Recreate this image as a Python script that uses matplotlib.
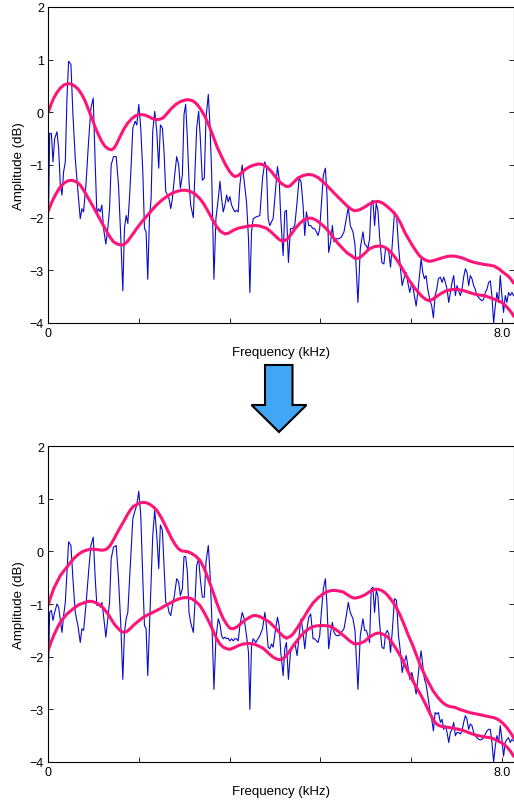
import numpy as np
import matplotlib
matplotlib.use('Agg')
import matplotlib.pyplot as plt
from matplotlib.patches import Polygon

plt.rcParams['font.family'] = ['Liberation Sans', 'DejaVu Sans']

# spectrum samples (kHz), shared by both panels
freq = [
    0.000, 0.029, 0.059, 0.088, 0.117, 0.158, 0.187, 0.217, 0.246, 0.275,
    0.305, 0.334, 0.363, 0.404, 0.439, 0.480, 0.527, 0.568, 0.598, 0.627,
    0.668, 0.715, 0.756, 0.797, 0.832, 0.861, 0.890, 0.920, 0.949, 0.978,
    1.019, 1.054, 1.084, 1.113, 1.154, 1.201, 1.242, 1.283, 1.318, 1.347,
    1.377, 1.406, 1.435, 1.465, 1.494, 1.535, 1.564, 1.599, 1.634, 1.670,
    1.699, 1.728, 1.757, 1.787, 1.816, 1.845, 1.880, 1.916, 1.951, 1.980,
    2.015, 2.044, 2.074, 2.103, 2.132, 2.162, 2.191, 2.226, 2.267, 2.302,
    2.332, 2.367, 2.396, 2.425, 2.455, 2.484, 2.513, 2.560, 2.589, 2.619,
    2.654, 2.683, 2.718, 2.753, 2.783, 2.824, 2.853, 2.882, 2.923, 2.958,
    2.999, 3.029, 3.058, 3.087, 3.117, 3.146, 3.175, 3.204, 3.234, 3.263,
    3.292, 3.321, 3.351, 3.380, 3.421, 3.456, 3.497, 3.532, 3.556, 3.585,
    3.614, 3.661,
    3.732, 3.779, 3.820, 3.849, 3.878, 3.907, 3.937, 3.966, 4.001, 4.042,
    4.071, 4.101, 4.142, 4.171, 4.200, 4.235, 4.271, 4.306, 4.347, 4.388,
    4.423, 4.458, 4.493, 4.523, 4.552, 4.593, 4.628, 4.669, 4.698, 4.728,
    4.757, 4.786, 4.815, 4.851, 4.886, 4.915, 4.944, 4.979, 5.009, 5.038,
    5.079, 5.126, 5.167, 5.214, 5.255, 5.290, 5.325, 5.372, 5.407,
    5.460, 5.501, 5.548, 5.577, 5.606, 5.635, 5.665, 5.694, 5.723, 5.753,
    5.782, 5.811, 5.840, 5.881, 5.917, 5.946, 5.975, 6.004, 6.034, 6.063,
    6.104, 6.139, 6.174, 6.209, 6.239, 6.268, 6.309, 6.338, 6.373, 6.409,
    6.444, 6.485, 6.514, 6.543, 6.573, 6.602, 6.631, 6.660, 6.690, 6.725,
    6.760, 6.789, 6.819, 6.848, 6.877, 6.912, 6.942, 6.971, 7.000, 7.030,
    7.059, 7.088, 7.117, 7.147, 7.176, 7.205, 7.234, 7.264, 7.293, 7.322,
    7.352, 7.381, 7.410, 7.439, 7.469, 7.498, 7.527, 7.557, 7.586, 7.615,
    7.644, 7.674, 7.703, 7.732, 7.762, 7.791, 7.820, 7.850, 7.879, 7.908,
    7.937, 7.967, 7.996, 8.025, 8.055, 8.084, 8.113, 8.143, 8.172, 8.201,
]

spec_before = [
    -2.65, -0.40, -0.40, -0.94, -0.50, -0.37, -0.68, -1.38, -1.57, -1.13,
    -0.94, 0.27, 0.97, 0.91, -0.04, -0.87, -1.50, -2.02, -1.83, -1.89,
    -1.38, -0.55, 0.08, 0.27, -1.00, -1.92, -1.83, -1.89, -1.76, -2.20,
    -2.50, -2.20, -1.83, -1.00, -0.84, -0.84, -1.38, -2.40, -3.39, -2.20,
    -1.96, -2.11, -1.64, -1.00, -0.30, -0.17, -0.24, 0.15, -0.30, -1.13,
    -2.20, -2.27, -3.17, -2.02, -1.64, -0.36, 0.02, -0.36, -1.06, -0.24,
    -0.30, -0.75, -1.50, -1.57, -1.64, -1.83, -1.64, -1.25, -0.84, -1.00,
    -1.44, -1.19, -0.04, 0.15, -0.49, -1.31, -1.76, -2.00, -1.13, -0.30,
    0.02, -0.49, -1.29, -1.25, -0.11, 0.34, -0.24, -1.13, -3.17, -2.02,
    -1.64, -1.31, -1.64, -1.89, -1.76, -1.57, -1.70, -1.60, -1.76, -1.83,
    -1.89, -1.86, -1.89, -1.38, -1.00, -1.31, -1.70, -2.40, -3.42, -2.27,
    -2.02, -1.99,
    -1.96, -1.25, -0.94, -1.06, -2.02, -2.15, -2.08, -2.02, -1.57, -1.03,
    -1.25, -2.02, -2.72, -1.89, -1.86, -2.85, -2.21, -2.21, -2.15, -1.70,
    -1.25, -1.32, -1.76, -2.34, -1.89, -2.15, -2.15, -2.21, -2.21, -2.27,
    -2.34, -2.21, -1.76, -1.19, -1.06, -1.57, -2.66, -2.46, -2.15, -2.46,
    -2.40, -2.40, -2.37, -2.27, -2.02, -1.80, -2.15, -2.27, -2.50,
    -3.61, -2.59, -2.27, -2.50, -2.53, -2.59, -2.40, -1.70, -1.67, -2.15,
    -1.73, -1.86, -2.34, -2.85, -2.88, -2.59, -2.59, -2.66, -2.94, -2.53,
    -1.89, -1.96, -2.53, -2.97, -3.29, -3.16, -3.04, -3.23, -3.42, -3.23,
    -3.42, -3.68, -3.42, -3.10, -2.78, -3.04, -3.16, -3.10, -3.36, -3.55,
    -3.68, -3.90, -3.48, -3.36, -3.16, -3.13, -3.23, -3.13, -3.23, -3.36,
    -3.61, -3.42, -3.23, -3.10, -3.48, -3.29, -3.39, -3.48, -3.36, -3.13,
    -2.97, -3.04, -3.29, -3.10, -3.16, -3.29, -3.36, -3.48, -3.52, -3.55,
    -3.58, -3.55, -3.42, -3.36, -3.23, -3.20, -3.48, -4.00, -3.68, -3.42,
    -3.61, -3.10, -3.48, -3.80, -3.48, -3.61, -3.42, -3.48, -3.42, -3.48,
]

spec_after = [
    -2.68, -1.16, -1.12, -1.31, -1.16, -1.00, -1.06, -1.31, -1.54, -1.22,
    -0.97, -0.39, 0.18, 0.11, -0.52, -1.16, -1.41, -1.73, -1.47, -1.50,
    -1.03, -0.39, 0.11, 0.27, -0.52, -1.03, -1.00, -1.06, -0.97, -1.22,
    -1.63, -1.28, -0.97, -0.14, 0.08, 0.11, -0.52, -1.41, -2.43, -1.54,
    -1.28, -1.16, -0.58, 0.05, 0.62, 0.78, 0.88, 1.14, 0.69, -0.52,
    -1.41, -1.47, -2.36, -1.47, -0.65, 0.30, 0.78, 0.30, -0.33, 0.50,
    0.40, -0.27, -0.97, -1.00, -1.16, -1.22, -1.03, -0.84, -0.52, -0.58,
    -0.84, -0.71, -0.10, -0.10, -0.39, -1.16, -1.35, -1.54, -0.97, -0.27,
    -0.14, -0.52, -0.87, -0.87, -0.20, 0.11, -0.39, -1.16, -2.62, -1.66,
    -1.28, -1.38, -1.60, -1.66, -1.63, -1.66, -1.65, -1.70, -1.66, -1.70,
    -1.66, -1.66, -1.70, -1.41, -1.16, -1.28, -1.60, -1.92, -3.00, -1.79,
    -1.66, -1.73,
    -1.60, -1.47, -1.16, -1.44, -1.82, -1.85, -1.76, -1.82, -1.54, -1.25,
    -1.41, -1.92, -2.36, -1.85, -1.73, -2.43, -1.92, -1.79, -1.73, -1.98,
    -1.60, -1.28, -1.54, -1.85, -1.54, -1.25, -1.19, -1.66, -1.66, -1.70,
    -1.73, -1.60, -1.16, -0.71, -0.52, -1.03, -1.85, -1.54, -1.35, -1.54,
    -1.60, -1.60, -1.54, -1.47, -1.22, -0.97, -1.16, -1.28, -1.50,
    -2.62, -1.60, -1.28, -1.50, -1.50, -1.60, -1.73, -0.71, -0.68, -1.16,
    -0.74, -0.84, -1.35, -1.82, -1.85, -1.57, -1.50, -1.57, -1.92, -1.54,
    -0.90, -0.93, -1.60, -1.92, -2.30, -2.14, -1.98, -2.17, -2.43, -2.30,
    -2.46, -2.71, -2.43, -2.11, -1.89, -2.17, -2.43, -2.52, -2.74, -3.00,
    -3.19, -3.41, -3.06, -3.09, -3.06, -3.25, -3.19, -3.38, -3.31, -3.44,
    -3.63, -3.44, -3.38, -3.25, -3.50, -3.44, -3.44, -3.47, -3.41, -3.25,
    -3.12, -3.19, -3.38, -3.28, -3.31, -3.44, -3.50, -3.54, -3.57, -3.58,
    -3.57, -3.54, -3.47, -3.41, -3.38, -3.38, -3.63, -4.00, -3.70, -3.50,
    -3.63, -3.31, -3.57, -3.89, -3.63, -3.57, -3.54, -3.63, -3.57, -3.60,
]

# envelopes as (kHz, dB) pairs
env_up_before = np.array([
    (0.000, -0.01), (0.050, 0.14), (0.100, 0.27), (0.160, 0.38), (0.217, 0.46),
    (0.280, 0.52), (0.334, 0.54), (0.380, 0.545), (0.422, 0.53), (0.480, 0.49),
    (0.539, 0.43), (0.600, 0.33), (0.656, 0.21), (0.710, 0.06), (0.773, -0.11),
    (0.830, -0.28), (0.890, -0.43), (0.950, -0.56), (1.008, -0.65), (1.070, -0.70),
    (1.125, -0.71), (1.170, -0.67), (1.213, -0.59), (1.270, -0.46), (1.330, -0.33),
    (1.400, -0.21), (1.476, -0.12), (1.550, -0.06), (1.623, -0.04), (1.700, -0.05),
    (1.769, -0.08), (1.840, -0.12), (1.916, -0.14), (1.975, -0.13), (2.033, -0.10),
    (2.100, -0.02), (2.179, 0.08), (2.250, 0.15), (2.326, 0.20), (2.400, 0.23),
    (2.472, 0.24), (2.550, 0.22), (2.619, 0.16), (2.690, 0.06), (2.765, -0.08),
    (2.840, -0.26), (2.911, -0.46), (2.980, -0.66), (3.058, -0.84), (3.130, -1.00),
    (3.204, -1.13), (3.250, -1.19), (3.292, -1.22), (3.350, -1.20), (3.409, -1.15),
    (3.480, -1.08), (3.556, -1.03), (3.630, -1.00), (3.702, -0.98), (3.780, -0.99),
    (3.849, -1.03), (3.940, -1.13), (4.025, -1.25), (4.110, -1.35), (4.200, -1.41),
    (4.260, -1.40), (4.317, -1.34), (4.400, -1.25), (4.493, -1.20), (4.580, -1.18),
    (4.669, -1.19), (4.760, -1.24), (4.845, -1.32), (4.930, -1.41), (5.020, -1.51),
    (5.110, -1.61), (5.196, -1.70), (5.270, -1.78), (5.343, -1.84), (5.401, -1.87),
    (5.490, -1.85), (5.577, -1.80), (5.660, -1.74), (5.753, -1.70), (5.810, -1.69),
    (5.870, -1.71), (5.930, -1.75), (5.987, -1.80), (6.060, -1.87), (6.133, -1.96),
    (6.210, -2.10), (6.280, -2.27), (6.370, -2.44), (6.456, -2.59), (6.540, -2.72),
    (6.632, -2.80), (6.720, -2.83), (6.807, -2.81), (6.890, -2.78), (6.983, -2.75),
    (7.070, -2.73), (7.159, -2.73), (7.250, -2.75), (7.335, -2.78), (7.420, -2.82),
    (7.510, -2.85), (7.600, -2.87), (7.686, -2.89), (7.770, -2.90), (7.862, -2.92),
    (7.940, -2.97), (8.008, -3.03), (8.070, -3.08), (8.125, -3.13), (8.170, -3.19),
    (8.201, -3.24),
])

env_lo_before = np.array([
    (0.000, -1.89), (0.060, -1.72), (0.129, -1.57), (0.200, -1.44), (0.275, -1.35),
    (0.350, -1.30), (0.422, -1.29), (0.500, -1.32), (0.568, -1.38), (0.640, -1.50),
    (0.715, -1.64), (0.790, -1.78), (0.861, -1.92), (0.930, -2.06), (1.008, -2.21),
    (1.080, -2.35), (1.154, -2.46), (1.240, -2.51), (1.330, -2.52), (1.400, -2.45),
    (1.476, -2.34), (1.560, -2.21), (1.652, -2.08), (1.740, -1.97), (1.828, -1.86),
    (1.910, -1.76), (2.003, -1.67), (2.090, -1.60), (2.179, -1.54), (2.270, -1.50),
    (2.355, -1.48), (2.430, -1.48), (2.501, -1.50), (2.590, -1.55), (2.677, -1.64),
    (2.750, -1.75), (2.824, -1.89), (2.900, -2.04), (2.970, -2.17), (3.040, -2.26),
    (3.117, -2.31), (3.190, -2.29), (3.263, -2.24), (3.350, -2.20), (3.439, -2.18),
    (3.530, -2.16), (3.614, -2.15), (3.670, -2.15), (3.732, -2.16), (3.790, -2.18),
    (3.849, -2.20), (3.940, -2.28), (4.025, -2.37), (4.080, -2.42), (4.142, -2.45),
    (4.210, -2.41), (4.288, -2.31), (4.360, -2.20), (4.434, -2.11), (4.510, -2.04),
    (4.581, -2.01), (4.650, -2.01), (4.728, -2.05), (4.800, -2.11), (4.874, -2.18),
    (4.950, -2.27), (5.020, -2.37), (5.110, -2.49), (5.196, -2.59), (5.270, -2.67),
    (5.343, -2.72), (5.401, -2.77), (5.480, -2.77), (5.577, -2.68), (5.660, -2.59),
    (5.753, -2.55), (5.810, -2.54), (5.870, -2.54), (5.930, -2.56), (5.987, -2.60),
    (6.060, -2.68), (6.133, -2.78), (6.210, -2.91), (6.280, -3.04), (6.350, -3.17),
    (6.427, -3.29), (6.500, -3.39), (6.573, -3.48), (6.650, -3.55), (6.719, -3.58),
    (6.790, -3.54), (6.866, -3.48), (6.940, -3.43), (7.012, -3.39), (7.090, -3.37),
    (7.159, -3.36), (7.250, -3.37), (7.335, -3.39), (7.420, -3.42), (7.510, -3.45),
    (7.600, -3.47), (7.686, -3.48), (7.770, -3.51), (7.862, -3.55), (7.940, -3.58),
    (8.008, -3.62), (8.070, -3.68), (8.125, -3.75), (8.170, -3.81), (8.201, -3.87),
])

env_up_after = np.array([
    (0.000, -1.03), (0.050, -0.86), (0.100, -0.71), (0.160, -0.58), (0.217, -0.46),
    (0.280, -0.37), (0.334, -0.30), (0.390, -0.22), (0.451, -0.14), (0.520, -0.07),
    (0.598, -0.01), (0.670, 0.02), (0.744, 0.04), (0.820, 0.04), (0.890, 0.03),
    (0.950, 0.02), (1.008, 0.03), (1.050, 0.06), (1.095, 0.11), (1.150, 0.21),
    (1.213, 0.34), (1.270, 0.45), (1.330, 0.56), (1.390, 0.68), (1.447, 0.78),
    (1.500, 0.85), (1.564, 0.89), (1.620, 0.92), (1.681, 0.93), (1.740, 0.92),
    (1.798, 0.89), (1.860, 0.84), (1.916, 0.78), (1.990, 0.65), (2.062, 0.50),
    (2.120, 0.37), (2.179, 0.24), (2.240, 0.13), (2.296, 0.05), (2.350, 0.01),
    (2.414, 0.00), (2.470, -0.01), (2.531, -0.04), (2.600, -0.09), (2.677, -0.17),
    (2.750, -0.32), (2.824, -0.52), (2.900, -0.75), (2.970, -0.97), (3.030, -1.14),
    (3.087, -1.28), (3.150, -1.39), (3.204, -1.46), (3.260, -1.47), (3.321, -1.44),
    (3.390, -1.38), (3.468, -1.31), (3.540, -1.26), (3.614, -1.22), (3.670, -1.22),
    (3.732, -1.24), (3.820, -1.29), (3.907, -1.35), (4.000, -1.45), (4.083, -1.55),
    (4.140, -1.61), (4.200, -1.65), (4.260, -1.62), (4.317, -1.57), (4.400, -1.44),
    (4.493, -1.28), (4.580, -1.12), (4.669, -0.98), (4.760, -0.88), (4.845, -0.81),
    (4.930, -0.76), (5.020, -0.74), (5.110, -0.75), (5.196, -0.77), (5.270, -0.82),
    (5.343, -0.87), (5.401, -0.89), (5.490, -0.87), (5.577, -0.83), (5.660, -0.77),
    (5.753, -0.72), (5.810, -0.72), (5.870, -0.74), (5.930, -0.78), (5.987, -0.84),
    (6.060, -0.94), (6.133, -1.06), (6.210, -1.23), (6.280, -1.41), (6.350, -1.60),
    (6.427, -1.79), (6.500, -2.00), (6.573, -2.20), (6.650, -2.38), (6.719, -2.52),
    (6.790, -2.66), (6.866, -2.77), (6.940, -2.86), (7.012, -2.92), (7.090, -2.95),
    (7.159, -2.96), (7.250, -3.00), (7.335, -3.03), (7.420, -3.06), (7.510, -3.08),
    (7.600, -3.10), (7.686, -3.12), (7.770, -3.14), (7.862, -3.16), (7.940, -3.20),
    (8.008, -3.26), (8.070, -3.33), (8.125, -3.41), (8.170, -3.48), (8.201, -3.54),
])

env_lo_after = np.array([
    (0.000, -1.89), (0.050, -1.73), (0.100, -1.60), (0.160, -1.46), (0.217, -1.35),
    (0.280, -1.26), (0.334, -1.19), (0.410, -1.12), (0.480, -1.06), (0.550, -1.01),
    (0.627, -0.98), (0.700, -0.95), (0.773, -0.95), (0.830, -0.97), (0.890, -1.00),
    (0.950, -1.05), (1.008, -1.12), (1.070, -1.21), (1.125, -1.31), (1.180, -1.40),
    (1.242, -1.47), (1.290, -1.52), (1.342, -1.54), (1.390, -1.52), (1.447, -1.47),
    (1.500, -1.41), (1.564, -1.35), (1.620, -1.30), (1.681, -1.25), (1.750, -1.21),
    (1.828, -1.17), (1.900, -1.13), (1.974, -1.09), (2.050, -1.04), (2.121, -1.00),
    (2.190, -0.96), (2.267, -0.92), (2.340, -0.89), (2.414, -0.88), (2.470, -0.88),
    (2.531, -0.90), (2.600, -0.95), (2.677, -1.03), (2.750, -1.16), (2.824, -1.31),
    (2.900, -1.49), (2.970, -1.66), (3.030, -1.76), (3.087, -1.82), (3.150, -1.85),
    (3.204, -1.86), (3.280, -1.83), (3.351, -1.79), (3.440, -1.76), (3.527, -1.75),
    (3.630, -1.76), (3.732, -1.81), (3.790, -1.84), (3.880, -1.93), (3.966, -2.01),
    (4.040, -2.05), (4.112, -2.06), (4.180, -2.00), (4.259, -1.89), (4.350, -1.75),
    (4.434, -1.63), (4.520, -1.53), (4.610, -1.46), (4.700, -1.42), (4.786, -1.41),
    (4.870, -1.41), (4.962, -1.42), (5.050, -1.47), (5.138, -1.54), (5.230, -1.62),
    (5.313, -1.70), (5.401, -1.76), (5.490, -1.75), (5.577, -1.71), (5.660, -1.63),
    (5.753, -1.57), (5.810, -1.55), (5.870, -1.56), (5.930, -1.59), (5.987, -1.63),
    (6.060, -1.73), (6.133, -1.85), (6.210, -1.99), (6.280, -2.14), (6.350, -2.30),
    (6.427, -2.46), (6.500, -2.60), (6.573, -2.74), (6.650, -2.90), (6.719, -3.06),
    (6.780, -3.19), (6.836, -3.27), (6.890, -3.31), (6.954, -3.33), (7.020, -3.34),
    (7.100, -3.35), (7.190, -3.37), (7.276, -3.39), (7.360, -3.42), (7.452, -3.46),
    (7.540, -3.49), (7.627, -3.51), (7.720, -3.53), (7.803, -3.54), (7.890, -3.58),
    (7.979, -3.63), (8.040, -3.67), (8.096, -3.73), (8.150, -3.80), (8.201, -3.89),
])

xticks = [0, 1.6, 3.2, 4.8, 6.4, 8.0]
xticklabels = ['0', '', '', '', '', '8.0']
yticks = [-4, -3, -2, -1, 0, 1, 2]

W, H = 514, 803
fig = plt.figure(figsize=(W / 100, H / 100), dpi=100)

def panel(top_px, spec, env_up, env_lo):
    ax = fig.add_axes([48 / W, 1 - (top_px + 316) / H, 465.5 / W, 316 / H])
    ax.plot(freq, spec, color='#0a0acc', lw=0.8)
    for env in (env_up, env_lo):
        ax.plot(env[:, 0], env[:, 1], color='#ff1477', lw=2.2,
                solid_capstyle='round', solid_joinstyle='round')
    ax.set_xlim(0, 8.2)
    ax.set_ylim(-4, 2)
    ax.set_xticks(xticks)
    ax.set_xticklabels(xticklabels)
    ax.set_yticks(yticks)
    ax.tick_params(direction='in', length=3.5, width=0.6, labelsize=9,
                   left=True, right=True, bottom=True, top=False, pad=3)
    ax.set_ylabel('Amplitude (dB)', fontsize=9.5, labelpad=3)
    ax.set_xlabel('Frequency (kHz)', fontsize=9.5, labelpad=5)
    for s in ax.spines.values():
        s.set_linewidth(0.8)
    return ax

panel(8, spec_before, env_up_before, env_lo_before)
panel(447, spec_after, env_up_after, env_lo_after)

# down arrow between the panels
ov = fig.add_axes([0, 0, 1, 1], zorder=-1)
ov.set_xlim(0, W)
ov.set_ylim(H, 0)
ov.axis('off')
arrow = [(265, 366), (292.5, 366), (292.5, 406), (306.5, 406), (279, 433),
         (251.5, 406), (265, 406)]
ov.add_patch(Polygon(arrow, closed=True, facecolor='#42a6f7',
                     edgecolor='black', lw=1.5, joinstyle='miter'))

fig.savefig('out.png', dpi=100)
